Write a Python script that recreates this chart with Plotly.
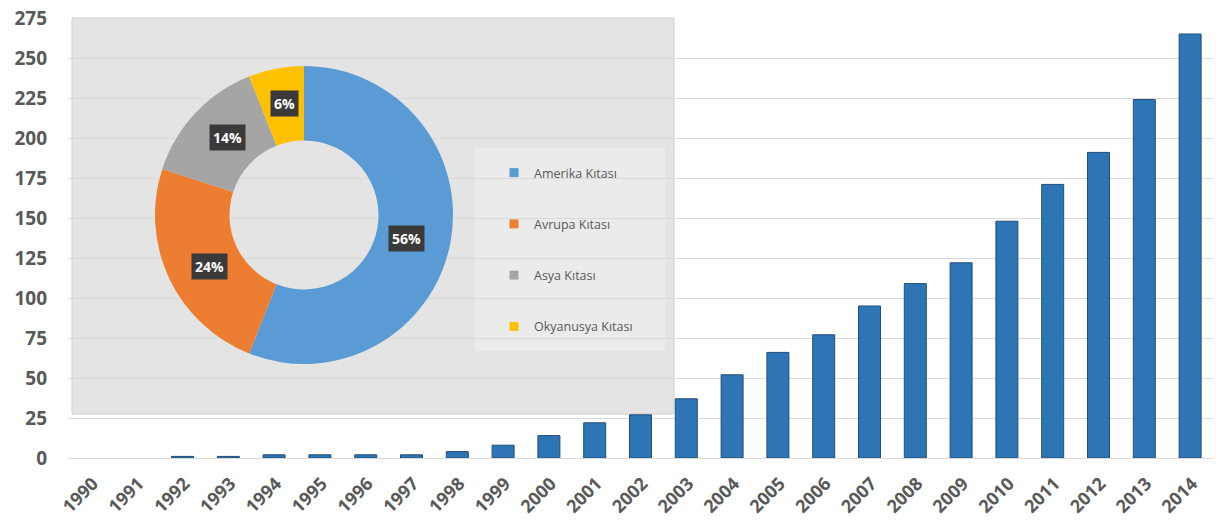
import math
import plotly.graph_objects as go

# ---- data ----
years = [str(y) for y in range(1990, 2015)]
counts = [0, 0, 1, 1, 2, 2, 2, 2, 4, 8, 14, 22, 27, 37, 52, 66, 77, 95, 109, 122,
          148, 171, 191, 224, 265]
y_ticks = list(range(0, 276, 25))

regions = ["Amerika Kıtası", "Avrupa Kıtası", "Asya Kıtası", "Okyanusya Kıtası"]
shares = [56, 24, 14, 6]
region_colors = ["#5b9bd5", "#ed7d31", "#a5a5a5", "#ffc000"]

# ---- layout geometry ----
W, H = 1220, 529
ML, MR, MT, MB = 68, 7, 18, 71
PW, PH = W - ML - MR, H - MT - MB

def px_x(p):  # pixel -> paper
    return (p - ML) / PW

def px_y(p):
    return (H - MB - p) / PH

fig = go.Figure()

fig.add_trace(go.Bar(
    x=years, y=counts,
    marker=dict(color="#2e75b6",
                line=dict(color="#1f4e79", width=[1 if c > 0 else 0 for c in counts])),
    showlegend=False,
))

# donut
cx, cy, R = 304, 215, 149
dom_x = [px_x(cx - R), px_x(cx + R)]
dom_y = [px_y(cy + R), px_y(cy - R)]
fig.add_trace(go.Pie(
    labels=regions, values=shares,
    marker=dict(colors=region_colors, line=dict(width=0)),
    hole=0.5, sort=False, direction="clockwise", rotation=0,
    textinfo="none", hoverinfo="label+percent",
    domain=dict(x=dom_x, y=dom_y),
    showlegend=False,
))

# legend entries
for name, col in zip(regions, region_colors):
    fig.add_trace(go.Scatter(
        x=[None], y=[None], mode="markers", name=name, legendgroup=name,
        marker=dict(symbol="square", size=9, color=col),
    ))

# donut value labels, positioned from the data
total = sum(shares)
acc = 0
annotations = []
for v in shares:
    mid = (acc + v / 2) / total * 2 * math.pi
    acc += v
    r = R * 0.74
    lx = cx + r * math.sin(mid) * 0.95
    ly = cy + 2 - r * math.cos(mid) * 1.05
    annotations.append(dict(
        x=px_x(lx), y=px_y(ly), xref="paper", yref="paper",
        xanchor="center", yanchor="middle",
        text=f"<b>{round(v / total * 100)}%</b>", showarrow=False,
        font=dict(family="Open Sans", size=14, color="white"),
        bgcolor="#3a3a3a", borderpad=3,
    ))

shapes = [
    # inset panel
    dict(type="rect", xref="paper", yref="paper",
         x0=px_x(72), x1=px_x(674), y0=px_y(414), y1=px_y(18),
         fillcolor="#e5e4e5", line=dict(color="#cfcfcf", width=1), layer="between"),
    # legend panel
    dict(type="rect", xref="paper", yref="paper",
         x0=px_x(475), x1=px_x(665), y0=px_y(351), y1=px_y(148),
         fillcolor="#ebebeb", line=dict(width=0), layer="between"),
]

fig.update_layout(
    width=W, height=H,
    margin=dict(l=ML, r=MR, t=MT, b=MB),
    paper_bgcolor="white", plot_bgcolor="white",
    bargap=0.52,
    shapes=shapes,
    annotations=annotations,
    legend=dict(
        x=px_x(494), y=px_y(158), xanchor="left", yanchor="top",
        bgcolor="rgba(0,0,0,0)", tracegroupgap=32,
        font=dict(family="Open Sans", size=12.5, color="#595959"),
        itemwidth=30,
    ),
    xaxis=dict(
        type="category", tickangle=-45, automargin=False,
        tickfont=dict(family="Open Sans", size=18, color="#595959", weight="bold"),
        showgrid=False, showline=True, linecolor="#d9d9d9", linewidth=1,
        ticks="", fixedrange=True, ticklabelstandoff=7, ticklabelshift=2,
    ),
    yaxis=dict(
        range=[0, 275], tickvals=y_ticks, automargin=False,
        tickfont=dict(family="Open Sans", size=19, color="#595959", weight="bold"),
        showgrid=True, gridcolor="#d9d9d9", gridwidth=1,
        zeroline=False, showline=False, ticks="",
        ticklabelstandoff=20, fixedrange=True,
    ),
)

fig.write_html("out.html")
